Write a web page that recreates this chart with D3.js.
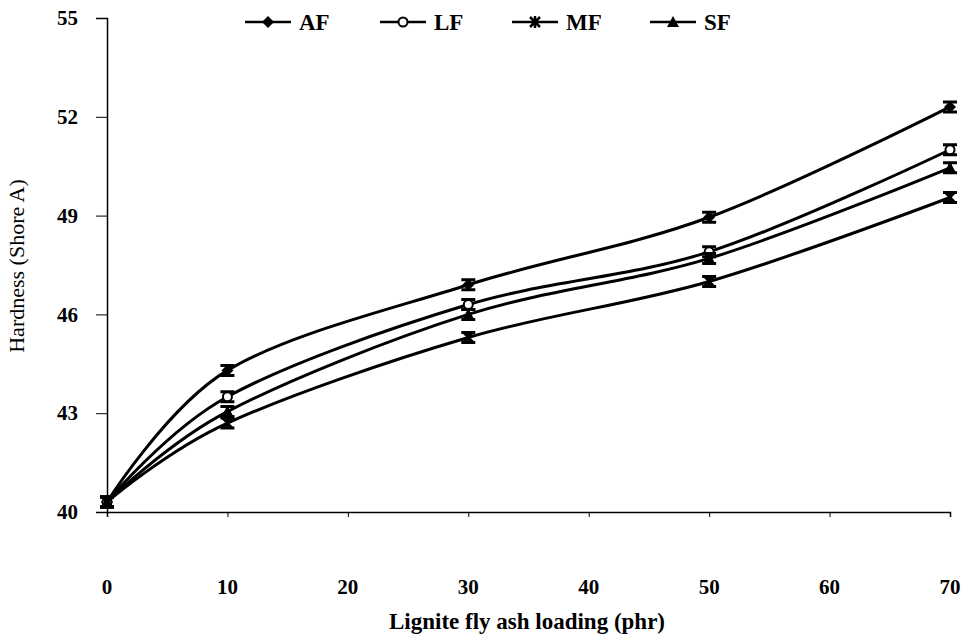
<!DOCTYPE html>
<html>
<head>
<meta charset="utf-8">
<script src="https://cdn.jsdelivr.net/npm/d3@7"></script>
<style>
body { margin: 0; background: #fff; }
</style>
</head>
<body>
<svg id="chart" width="967" height="636"></svg>
<script>
// data
let loading = [0, 10, 30, 50, 70];
let seriesNames = ['AF', 'LF', 'MF', 'SF'];
let af = [40.3, 44.3, 46.9, 48.95, 52.3];
let lf = [40.3, 43.5, 46.3, 47.9, 51.0];
let mf = [40.3, 42.7, 45.3, 47.0, 49.55];
let sf = [40.3, 43.05, 46.0, 47.7, 50.45];
let errs = [0.1, 0.15, 0.15, 0.15, 0.1];
let xTicks = [0, 10, 20, 30, 40, 50, 60, 70];
let yTicks = [40, 43, 46, 49, 52, 55];

let serif = '"Liberation Serif", "Times New Roman", serif';

let series = [
	{ name: 'AF', values: af, marker: 'diamond' },
	{ name: 'LF', values: lf, marker: 'circle' },
	{ name: 'MF', values: mf, marker: 'star' },
	{ name: 'SF', values: sf, marker: 'triangle' }
];

let svg = d3.select('#chart');
let margin = { top: 18, left: 107, right: 17, bottom: 124 };
let width = 967 - margin.left - margin.right;
let height = 636 - margin.top - margin.bottom;

let g = svg.append('g')
	.attr('transform', 'translate(' + margin.left + ',' + margin.top + ')');

let x = d3.scaleLinear().domain([0, 70]).range([0, width]);
let y = d3.scaleLinear().domain([40, 55]).range([height, 0]);

// axes
let xAxis = g.append('g')
	.attr('transform', 'translate(0,' + height + ')')
	.call(d3.axisBottom(x).tickValues(xTicks).tickSize(5).tickFormat(''));
xAxis.select('.domain').attr('stroke-width', 1.5);
xAxis.selectAll('line').attr('stroke-width', 1);

xAxis.selectAll('.xlab')
	.data(xTicks)
	.enter()
	.append('text')
	.attr('class', 'xlab')
	.attr('x', d => x(d))
	.attr('y', 82)
	.attr('text-anchor', 'middle')
	.attr('fill', '#000')
	.style('font-family', serif)
	.style('font-size', '21px')
	.style('font-weight', 'bold')
	.text(d => d);

let yAxis = g.append('g')
	.call(d3.axisLeft(y).tickValues(yTicks).tickSize(11).tickPadding(18));
yAxis.select('.domain').attr('stroke-width', 1.5);
yAxis.selectAll('line').attr('stroke-width', 1);
yAxis.selectAll('text')
	.style('font-family', serif)
	.style('font-size', '21px')
	.style('font-weight', 'bold')
	.attr('fill', '#000');

// axis titles
svg.append('text')
	.attr('x', 527)
	.attr('y', 629)
	.attr('text-anchor', 'middle')
	.style('font-family', serif)
	.style('font-size', '23px')
	.style('font-weight', 'bold')
	.text('Lignite fly ash loading (phr)');

svg.append('text')
	.attr('transform', 'translate(24,266) rotate(-90)')
	.attr('text-anchor', 'middle')
	.style('font-family', serif)
	.style('font-size', '22px')
	.text('Hardness (Shore A)');

// markers
function drawMarker(sel, type) {
	if (type == 'diamond') {
		sel.append('path').attr('d', 'M0,-6L6,0L0,6L-6,0Z').attr('fill', '#000');
	} else if (type == 'circle') {
		sel.append('circle').attr('r', 4.5).attr('fill', '#fff').attr('stroke', '#000').attr('stroke-width', 2);
	} else if (type == 'star') {
		sel.append('path').attr('d', 'M-5,-5L5,5M-5,5L5,-5M0,-6L0,6').attr('stroke', '#000').attr('stroke-width', 2.5);
	} else {
		sel.append('path').attr('d', 'M0,-6L6,5L-6,5Z').attr('fill', '#000');
	}
}

let line = d3.line()
	.x(d => x(d.x))
	.y(d => y(d.y))
	.curve(d3.curveCatmullRom.alpha(0));

let s = g.selectAll('.series')
	.data(series)
	.enter()
	.append('g')
	.attr('class', 'series');

s.append('path')
	.attr('fill', 'none')
	.attr('stroke', '#000')
	.attr('stroke-width', 3)
	.attr('d', d => line(d.values.map((v, i) => ({ x: loading[i], y: v }))));

// error bars
s.each(function(d) {
	let pts = d3.select(this).selectAll('.pt')
		.data(d.values.map((v, i) => ({ x: loading[i], y: v, e: errs[i] })))
		.enter()
		.append('g')
		.attr('class', 'pt')
		.attr('transform', p => 'translate(' + x(p.x) + ',' + y(p.y) + ')');
	pts.append('path')
		.attr('stroke', '#000')
		.attr('stroke-width', 3)
		.attr('d', p => {
			let h = Math.max(y(p.y - p.e) - y(p.y), 5);
			return 'M0,' + (-h) + 'L0,' + h + 'M-7,' + (-h) + 'L7,' + (-h) + 'M-7,' + h + 'L7,' + h;
		});
	drawMarker(pts, d.marker);
});

// legend
let legendX = [245, 380, 512, 650];
let legend = svg.selectAll('.legend')
	.data(series)
	.enter()
	.append('g')
	.attr('class', 'legend')
	.attr('transform', (d, i) => 'translate(' + legendX[i] + ',22)');
legend.append('line')
	.attr('x1', 0).attr('x2', 46)
	.attr('stroke', '#000').attr('stroke-width', 2.5);
legend.append('g')
	.attr('transform', 'translate(23,0)')
	.each(function(d) { drawMarker(d3.select(this), d.marker); });
legend.append('text')
	.attr('x', 54)
	.attr('y', 8)
	.style('font-family', serif)
	.style('font-size', '23px')
	.style('font-weight', 'bold')
	.text(d => d.name);
</script>
</body>
</html>
